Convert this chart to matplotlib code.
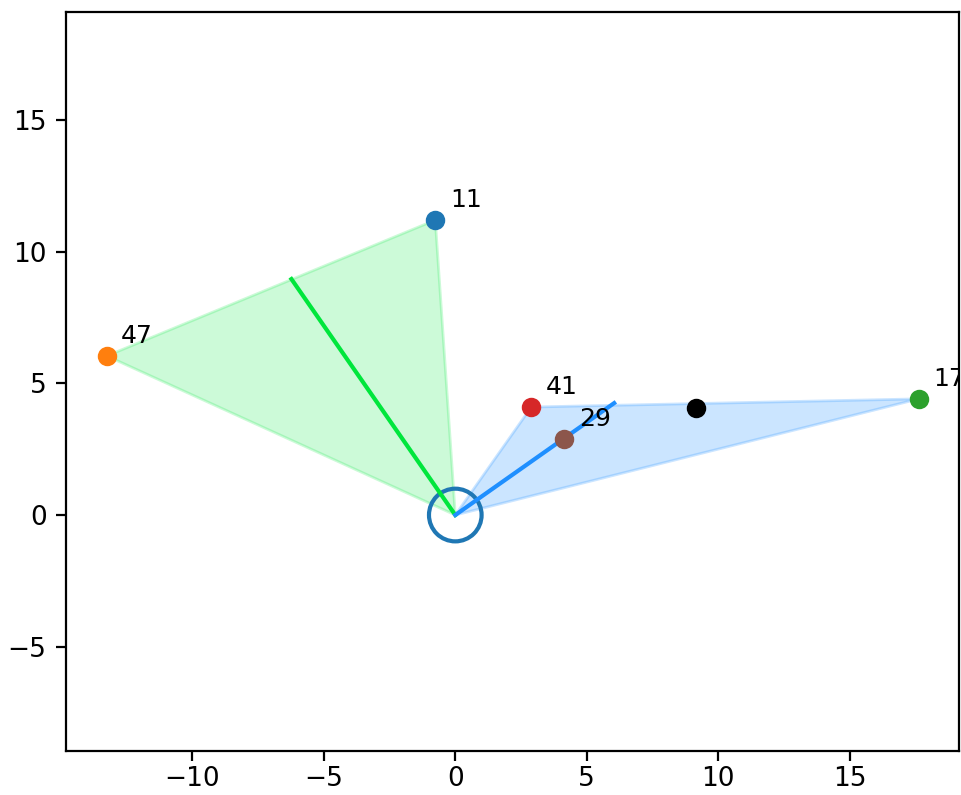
import matplotlib
matplotlib.use("Agg")
import matplotlib.pyplot as plt
from matplotlib.patches import Polygon, Circle

# labelled points (id, x, y)
labels = ["11", "47", "17", "41", "29"]
xs = [-0.76, -13.25, 17.62, 2.89, 4.14]
ys = [11.2, 6.04, 4.41, 4.10, 2.89]
point_colors = ["C0", "C1", "C2", "C3", "C5"]

# extra unlabelled point
black_pt = (9.15, 4.06)

# the two wedges: apex at origin, two corners each
green_tri = [(0, 0), (-13.25, 6.04), (-0.76, 11.2)]
blue_tri = [(0, 0), (2.89, 4.10), (17.62, 4.41)]

# bisector segments from origin
green_dir = (-6.23, 8.96)
blue_dir = (6.04, 4.25)

green = (0.0, 0.9, 0.235)
blue = (0.12, 0.56, 1.0)

plt.rcParams['font.size'] = 9.5

fig = plt.figure(figsize=(9.61 / 2, 7.95 / 2), dpi=200)
ax = fig.add_axes([66 / 961, 44 / 795, 893 / 961, 739 / 795])

ax.add_patch(Polygon(green_tri, closed=True, color=green, alpha=0.2))
ax.add_patch(Polygon(blue_tri, closed=True, color=blue, alpha=0.23))

ax.plot([0, green_dir[0]], [0, green_dir[1]], color=green)
ax.plot([0, blue_dir[0]], [0, blue_dir[1]], color=blue)

ax.add_patch(Circle((0, 0), 1.0, fill=False, edgecolor="C0", linewidth=1.5))

for lab, x, y, c in zip(labels, xs, ys, point_colors):
    ax.scatter(x, y, color=c, zorder=3)
    ax.text(x + 0.55, y + 0.5, lab, fontsize=9, clip_on=True)

ax.scatter(black_pt[0], black_pt[1], color="black", zorder=3)

ax.set_xlim(-14.8, 19.15)
ax.set_ylim(-8.96, 19.1)
ax.set_xticks([-10, -5, 0, 5, 10, 15])
ax.set_yticks([-5, 0, 5, 10, 15])
ax.tick_params(axis='x', pad=2)

fig.savefig("out.png", dpi=200)
